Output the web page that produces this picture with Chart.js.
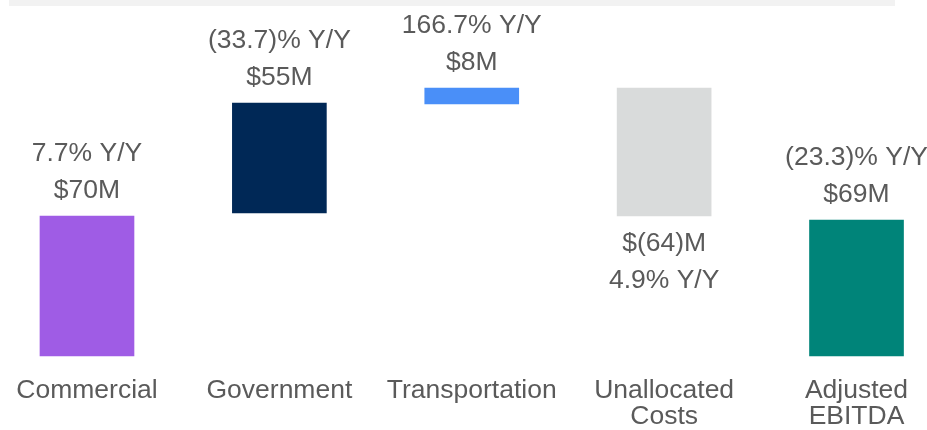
<!DOCTYPE html>
<html>
<head>
<meta charset="utf-8">
<script src="https://cdn.jsdelivr.net/npm/chart.js@4/dist/chart.umd.min.js"></script>
<style>
  html, body { margin: 0; padding: 0; background: #ffffff; overflow: hidden; }
  #wrap { position: relative; width: 927px; height: 430px; overflow: hidden; }
  #band { position: absolute; left: 9px; top: 0; width: 886px; height: 6px; background: #f2f2f2; }
  canvas { position: absolute; left: -10px; top: 0; }
</style>
</head>
<body>
<div id="wrap">
  <div id="band"></div>
  <canvas id="bridge" width="963" height="451"></canvas>
</div>
<script>
const categories = ['Commercial', 'Government', 'Transportation', ['Unallocated', 'Costs'], ['Adjusted', 'EBITDA']]
// floating bars: [from, to]; a falling step goes from high to low
const barFrom = [0, 71.5, 126, 134, 0]
const barTo = [70, 126.5, 134, 70, 68]
const valueLabels = ['$70M', '$55M', '$8M', '$(64)M', '$69M']
const yoyLabels = ['7.7% Y/Y', '(33.7)% Y/Y', '166.7% Y/Y', '4.9% Y/Y', '(23.3)% Y/Y']
const barColors = ['#9f5ce5', '#002856', '#4a8ff8', '#d9dbdb', '#008479']

const textColor = '#5a5a5a'
const fontFamily = '"Liberation Sans", Arial, Helvetica, sans-serif'

const bars = barFrom.map((v, i) => [v, barTo[i]])

const labelPlugin = {
    id: 'stepLabels',
    afterDatasetsDraw(chart) {
        const c = chart.ctx
        const meta = chart.getDatasetMeta(0)
        c.save()
        c.font = '26.5px ' + fontFamily
        c.fillStyle = textColor
        c.textAlign = 'center'
        c.textBaseline = 'alphabetic'
        meta.data.forEach((el, i) => {
            const falling = barTo[i] < barFrom[i]
            if (falling) {
                const bottom = Math.max(el.y, el.base)
                c.fillText(valueLabels[i], el.x, bottom + 35)
                c.fillText(yoyLabels[i], el.x, bottom + 72)
            } else {
                const top = Math.min(el.y, el.base)
                c.fillText(valueLabels[i], el.x, top - 18)
                c.fillText(yoyLabels[i], el.x, top - 55)
            }
        })
        c.restore()
    }
}

new Chart(document.getElementById('bridge'), {
    type: 'bar',
    data: {
        labels: categories,
        datasets: [{
            data: bars,
            backgroundColor: barColors,
            borderWidth: 0,
            barThickness: 94,
            clip: false
        }]
    },
    options: {
        responsive: false,
        animation: false,
        layout: {
            padding: { left: 0.8, right: 0.3, top: 16, bottom: 0 }
        },
        plugins: {
            legend: { display: false },
            tooltip: { enabled: false }
        },
        scales: {
            x: {
                grid: { display: false, drawTicks: false },
                border: { display: false },
                ticks: {
                    color: textColor,
                    padding: 21,
                    maxRotation: 0,
                    autoSkip: false,
                    font: { family: fontFamily, size: 26.5, lineHeight: 1 }
                }
            },
            y: {
                display: false,
                min: 0,
                max: 170
            }
        }
    },
    plugins: [labelPlugin]
})
</script>
</body>
</html>
